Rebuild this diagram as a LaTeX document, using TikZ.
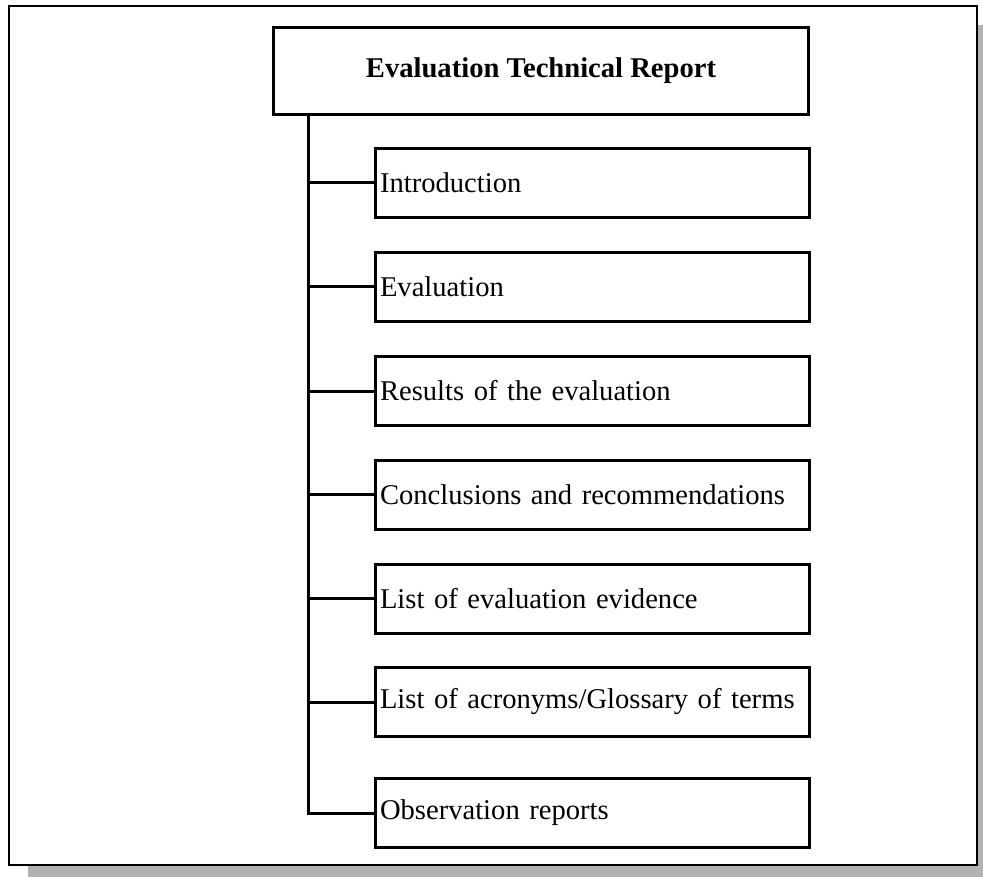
\documentclass[tikz,border=0pt]{standalone}
\usepackage{fontspec}
\setmainfont{Liberation Serif}
\begin{document}
\begin{tikzpicture}[x=1pt,y=-1pt,
  every node/.style={font=\fontsize{28.6}{32}\selectfont},
  titlebox/.style={draw, line width=3pt, minimum width=535pt, minimum height=87pt,
    inner sep=0pt, font=\fontsize{28.6}{32}\selectfont\bfseries},
  partbox/.style={draw, line width=3pt, minimum width=434pt, minimum height=69pt,
    text width=424pt, inner xsep=5pt, inner ysep=0pt, align=left},
  link/.style={line width=3pt}]
\useasboundingbox (0,0) rectangle (983,877);
% drop shadow and frame
\fill[black!30] (28,25) rectangle (983,877);
\filldraw[fill=white, draw=black, line width=2.6pt] (9,6) rectangle (977,865);
% report structure
\node[titlebox] (title) at (541,71) {Evaluation Technical Report};
\node[partbox] (intro) at (592,183) {Introduction};
\node[partbox] (eval)  at (592,287) {Evaluation};
\node[partbox] (res)   at (592,391) {Results of the evaluation};
\node[partbox] (concl) at (592,494.5) {Conclusions and recommendations};
\node[partbox] (evid)  at (592,598.5) {List of evaluation evidence};
\node[partbox] (acr)   at (592,702) {List of acronyms/Glossary of terms};
\node[partbox] (obs)   at (592,813) {Observation reports};
\coordinate (trunk) at (308,115);
\draw[link] (trunk) |- (obs.west);
\foreach \n in {intro,eval,res,concl,evid,acr}
  \draw[link] (trunk |- \n.west) -- (\n.west);
\end{tikzpicture}
\end{document}
